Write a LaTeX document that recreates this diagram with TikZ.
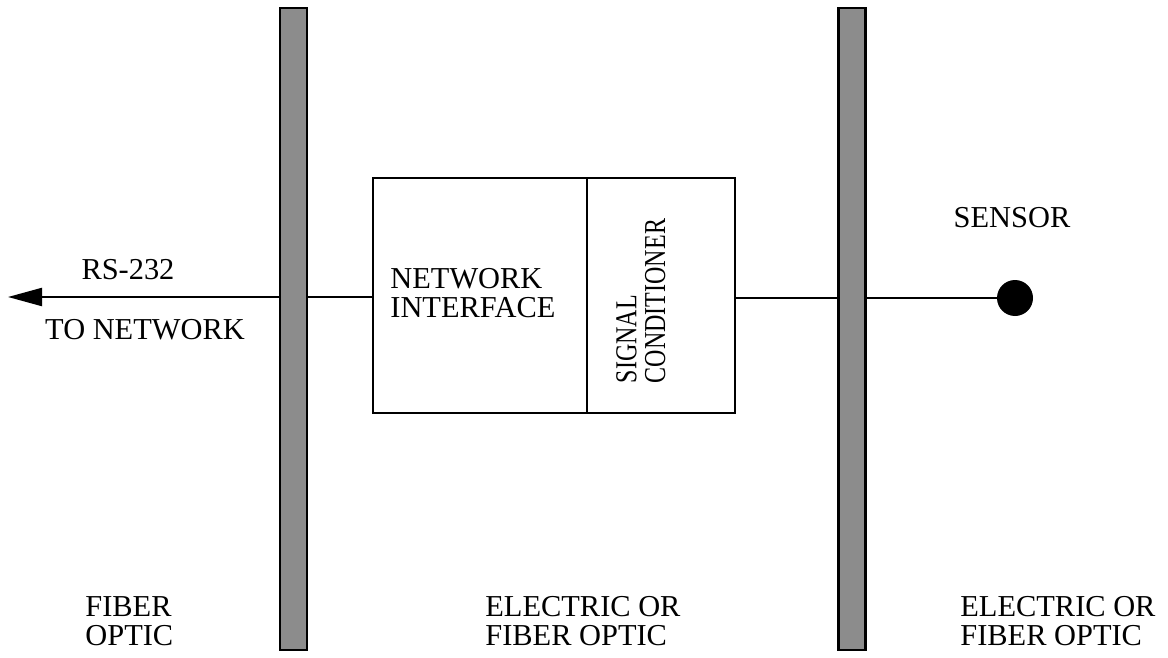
\documentclass[tikz,border=0pt]{standalone}
\usepackage{fontspec}
\setmainfont{Liberation Serif}
\usetikzlibrary{arrows.meta}

\begin{document}
\begin{tikzpicture}[
    x={(0.5pt,0pt)},
    y={(0pt,-0.5pt)},
    font=\fontsize{15.2}{14.2}\selectfont,
    bar_style/.style={rectangle, draw, line width=1.3pt, fill=black!45, minimum width=13.5pt, minimum height=321pt, inner sep=0pt},
    block_style/.style={rectangle, draw, line width=1.1pt, minimum height=117.5pt, inner sep=0pt},
    wire_style/.style={draw, line width=1.1pt},
    label_style/.style={align=left, inner sep=0pt},
    sensor_style/.style={circle, fill=black, minimum size=18pt, inner sep=0pt}
]
  \useasboundingbox (0,0) rectangle (1168,658);
  % Blocks in the middle
  \node[block_style, minimum width=107pt] (ni) at (480,295.5) {};
  \node[block_style, minimum width=74pt] (sc) at (661,295.5) {};
  \node[label_style, anchor=west] (ni-text) at (390,293) {NETWORK\\INTERFACE};
  \node[label_style, rotate=90] (sc-text) at (645,301)
    {\scalebox{0.79}[1]{\begin{tabular}{@{}l@{}}SIGNAL\\CONDITIONER\end{tabular}}};
  % Sensor and the two wires
  \node[sensor_style] (sensor) at (1015,298) {};
  \coordinate (net-end) at (8,297);
  \draw[wire_style, -{Triangle[length=17pt,width=9pt]}] (ni.west |- net-end) -- (net-end);
  \draw[wire_style] (sc.east |- sensor) -- (sensor);
  % Barriers
  \foreach \xPos/\barID in {293.5/left, 852/right} {
    \node[bar_style] (bar-\barID) at (\xPos,329) {};
  }
  % Text labels
  \node[label_style] (rs) at (128,270) {RS-232};
  \node[label_style] (to-net) at (145,330) {TO NETWORK};
  \node[label_style] (sensor-text) at (1012,218) {SENSOR};
  \foreach \xPos/\zoneText/\zoneID in {85/{FIBER\\OPTIC}/a, 485/{ELECTRIC OR\\FIBER OPTIC}/b, 960/{ELECTRIC OR\\FIBER OPTIC}/c} {
    \node[label_style, anchor=west] (zone-\zoneID) at (\xPos,621) {\zoneText};
  }
\end{tikzpicture}
\end{document}
